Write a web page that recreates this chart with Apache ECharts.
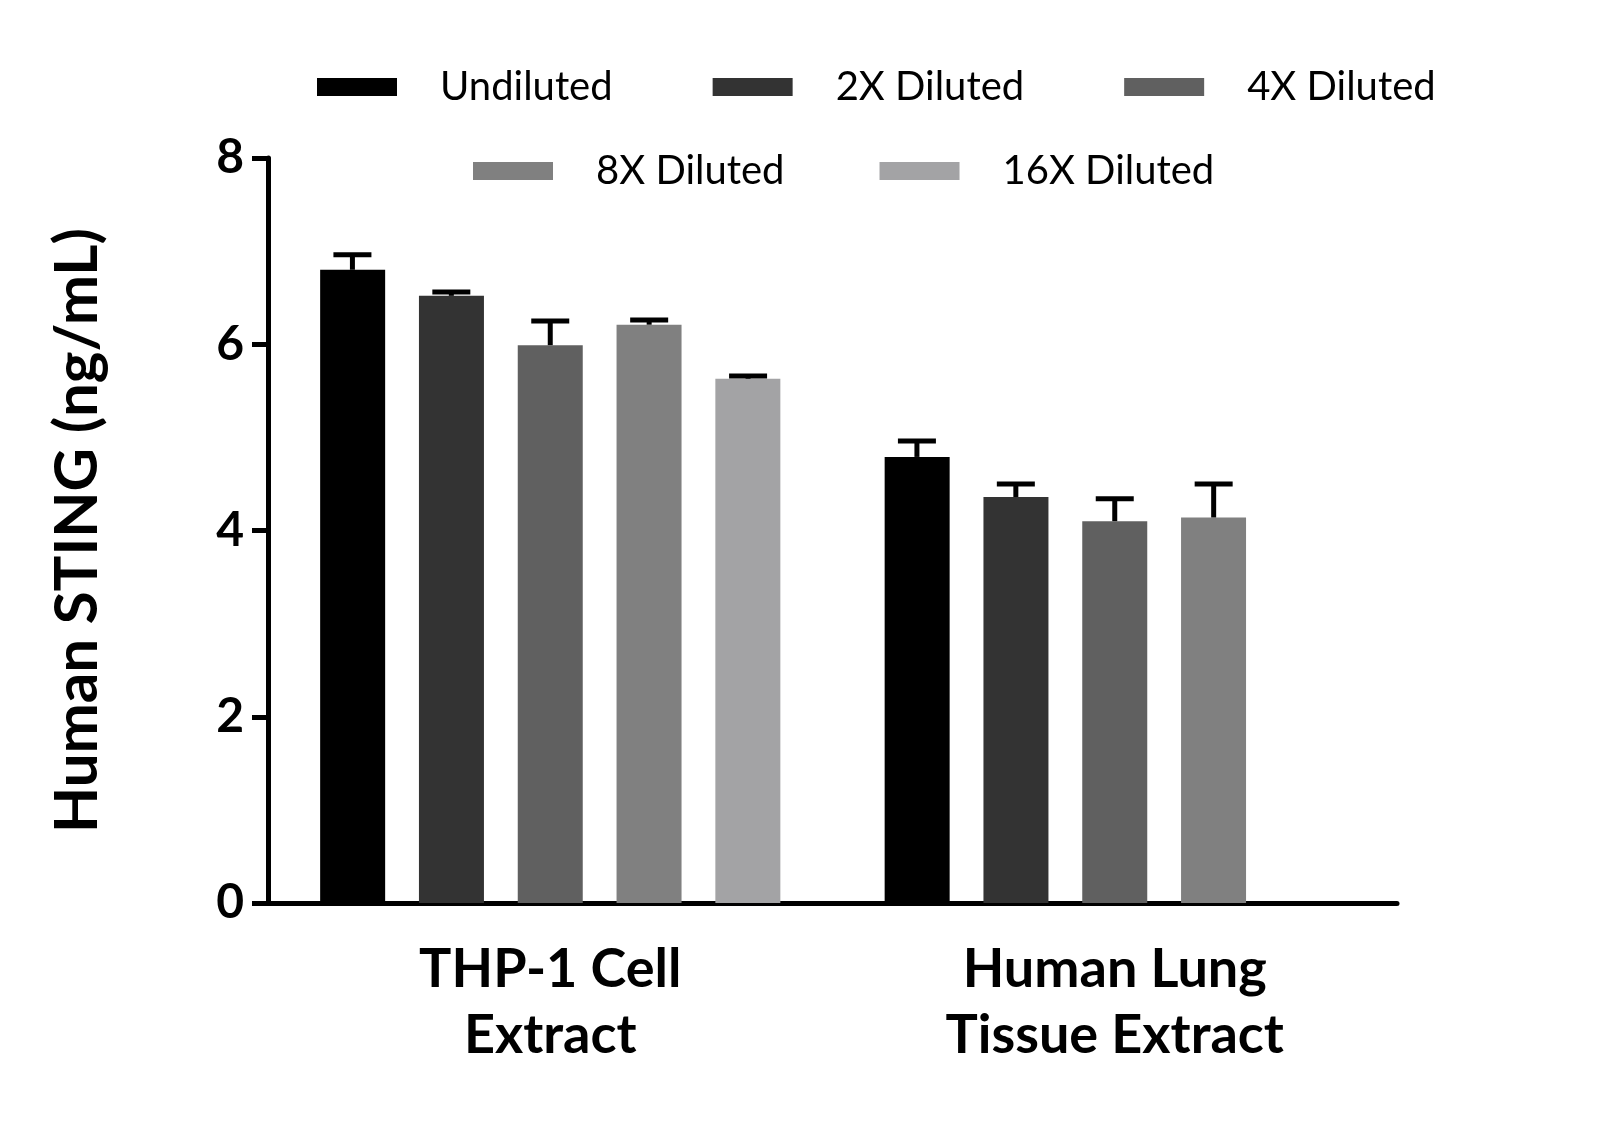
<!DOCTYPE html>
<html><head><meta charset="utf-8">
<script src="https://cdn.jsdelivr.net/npm/echarts@6/dist/echarts.min.js"></script>
<style>html,body{margin:0;background:#fff}#c{width:1600px;height:1143px}</style>
</head><body><div id="c"></div>
<script>
var categories = ['THP-1 Cell\nExtract', 'Human Lung\nTissue Extract'];
var seriesNames = ['Undiluted', '2X Diluted', '4X Diluted', '8X Diluted', '16X Diluted'];
var colors = ['#000000', '#333333', '#606060', '#808080', '#a3a3a5'];
var undiluted = [6.80, 4.79];
var dil2x = [6.52, 4.36];
var dil4x = [5.99, 4.10];
var dil8x = [6.21, 4.14];
var dil16x = [5.63, null];
var errUndiluted = [0.16, 0.17];
var err2x = [0.04, 0.14];
var err4x = [0.26, 0.24];
var err8x = [0.05, 0.36];
var err16x = [0.03, null];
var yTicks = [0, 2, 4, 6, 8];

var means = [undiluted, dil2x, dil4x, dil8x, dil16x];
var errs = [errUndiluted, err2x, err4x, err8x, err16x];

var chart = echarts.init(document.getElementById('c'));
var font = 'Lato';
var series = [];
means.forEach(function (m, i) {
  series.push({
    name: seriesNames[i], type: 'bar', data: m, barWidth: 65, barGap: '52%', barCategoryGap: '18%',
    itemStyle: { color: colors[i] }, z: 2
  });
});
means.forEach(function (m, i) {
  var data = [];
  m.forEach(function (v, j) { if (v != null && errs[i][j] != null) data.push([j, v, v + errs[i][j]]); });
  series.push({
    type: 'custom', z: 3, silent: true, data: data,
    renderItem: function (params, api) {
      var band = api.size([1, 0])[0];
      var off = (i - 2) * 99 / 565 * band;
      var p0 = api.coord([api.value(0), api.value(1)]);
      var p1 = api.coord([api.value(0), api.value(2)]);
      var x = p0[0] + off;
      var st = { stroke: '#000', lineWidth: 5 };
      return { type: 'group', children: [
        { type: 'line', shape: { x1: x, y1: p0[1], x2: x, y2: p1[1] }, style: st },
        { type: 'line', shape: { x1: x - 19, y1: p1[1], x2: x + 19, y2: p1[1] }, style: st }
      ] };
    }
  });
});

var legText = { fontSize: 40, color: '#000', padding: [0, 0, 0, 38] };
chart.setOption({
  animation: false,
  textStyle: { fontFamily: font },
  legend: [
    { top: 62, left: 312, itemWidth: 80, itemHeight: 18, itemGap: 100, data: seriesNames.slice(0, 3),
      textStyle: legText, icon: 'rect' },
    { top: 146, left: 468, itemWidth: 80, itemHeight: 18, itemGap: 95, data: seriesNames.slice(3),
      textStyle: legText, icon: 'rect' }
  ],
  grid: { left: 268, right: 203, top: 158, bottom: 240 },
  xAxis: {
    type: 'category', data: categories,
    axisLine: { lineStyle: { color: '#000', width: 5 } },
    axisTick: { alignWithLabel: true, length: 16, lineStyle: { width: 5, color: '#000' } },
    axisLabel: { fontSize: 54, fontWeight: 'bold', color: '#000', margin: 34, lineHeight: 66 }
  },
  yAxis: {
    type: 'value', min: yTicks[0], max: yTicks[yTicks.length - 1], interval: 2,
    name: 'Human STING (ng/mL)', nameLocation: 'middle', nameGap: 160,
    nameTextStyle: { fontSize: 60, fontWeight: 'bold', color: '#000' },
    splitLine: { show: false },
    axisLine: { show: true, lineStyle: { color: '#000', width: 5 } },
    axisTick: { show: true, length: 16, lineStyle: { width: 5, color: '#000' } },
    axisLabel: { fontSize: 48, fontWeight: 'bold', color: '#000', margin: 24 }
  },
  series: series
});
</script></body></html>
